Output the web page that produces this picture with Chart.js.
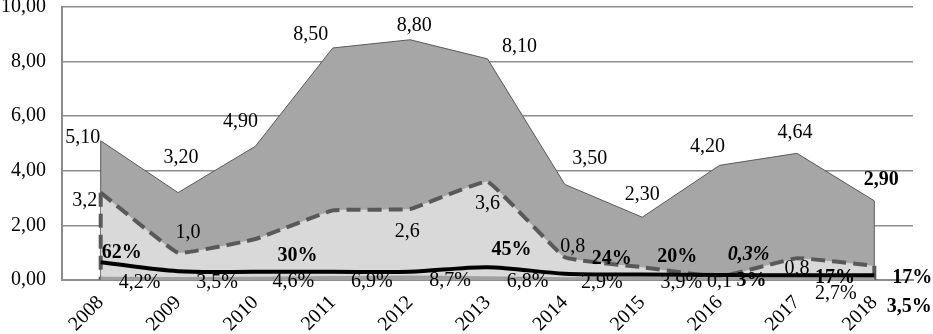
<!DOCTYPE html>
<html><head><meta charset="utf-8">
<script src="https://cdn.jsdelivr.net/npm/chart.js@4"></script>
<style>html,body{margin:0;padding:0;background:#fff}#wrap{width:933px;height:334px}</style>
</head><body><div id="wrap"><canvas id="c" width="933" height="334"></canvas></div>
<script>
// ---- data ----
const years = ['2008','2009','2010','2011','2012','2013','2014','2015','2016','2017','2018'];
const totalValues = [5.10, 3.20, 4.90, 8.50, 8.80, 8.10, 3.50, 2.30, 4.20, 4.64, 2.90];
const totalLabels = ['5,10','3,20','4,90','8,50','8,80','8,10','3,50','2,30','4,20','4,64','2,90'];
const partValues = [3.2, 1.0, 1.5, 2.55, 2.6, 3.6, 0.83, 0.47, 0.12, 0.8, 0.52];
const partLabels = ['3,2','1,0',null,null,'2,6','3,6','0,8',null,'0,1','0,8',null];
const shareValues = [0.65, 0.32, 0.30, 0.30, 0.30, 0.47, 0.23, 0.20, 0.18, 0.17, 0.17];
const shareLabels = ['62%',null,'30%',null,null,'45%','24%','20%','0,3%','17%','17%'];
const minorValues = [0.042, 0.035, 0.046, 0.069, 0.087, 0.068, 0.029, 0.039, 0.030, 0.027, 0.035];
const minorLabels = ['4,2%','3,5%','4,6%','6,9%','8,7%','6,8%','2,9%','3,9%','3%','2,7%','3,5%'];
const yTickValues = [0, 2, 4, 6, 8, 10];

// ---- label placement (styling, kept apart from data) ----
const FONT = '"Liberation Serif", "Times New Roman", serif';
const totalOffsets = [[-18,-3],[3,-35],[-15,-24],[-22,-13],[4,-14],[32,-12],[25,-26],[0,-22],[-12,-19],[-2,-21],[7,-21]];
const totalStyles  = ['','','','','','','','','','','bold'];
const partOffsets  = [[-16,8],[10,-20],[0,0],[0,0],[-3,23],[0,22],[8,-11],[0,0],[0,5],[0,11],[0,0]];
const shareOffsets = [[21,-9],[0,0],[42,-16],[0,0],[0,0],[24,-17],[47,-15],[35,-18],[29,-20],[38,2],[38,2]];
const shareStyles  = ['bold','bold','bold','bold','bold','bold','bold','bold','italic bold','bold','bold'];
const minorOffsets = [[39,3.5],[39,3.5],[38,3.5],[39,3.5],[40,3.5],[40,3.5],[37,3.5],[39,3.5],[32,1.5],[39,14],[35,28]];
const minorStyles  = ['','','','','','','','','bold','','bold'];

const labelPlugin = {
  id: 'valueLabels',
  afterDatasetsDraw(chart) {
    const ctx = chart.ctx;
    ctx.save();
    ctx.textAlign = 'center';
    ctx.textBaseline = 'middle';
    ctx.fillStyle = '#000';
    chart.data.datasets.forEach((ds, di) => {
      if (!ds.valueLabels) return;
      const meta = chart.getDatasetMeta(di);
      ds.valueLabels.forEach((t, i) => {
        if (!t) return;
        const p = meta.data[i];
        const off = ds.labelOffsets[i];
        const st = ds.labelStyles ? ds.labelStyles[i] : '';
        ctx.font = (st ? st + ' ' : '') + '20px ' + FONT;
        ctx.fillText(t, p.x + off[0], p.y + off[1]);
      });
    });
    ctx.restore();
  }
};

const edgePlugin = {
  id: 'areaEdges',
  afterDatasetDraw(chart, args) {
    const ds = chart.data.datasets[args.index];
    if (!ds.edge) return;
    const meta = args.meta;
    const base = chart.scales.y.getPixelForValue(0);
    const ctx = chart.ctx;
    ctx.save();
    ctx.strokeStyle = ds.borderColor;
    ctx.lineWidth = ds.borderWidth;
    ctx.setLineDash(ds.borderDash || []);
    [meta.data[0], meta.data[meta.data.length - 1]].forEach(p => {
      ctx.beginPath();
      ctx.moveTo(p.x, p.y);
      ctx.lineTo(p.x, base);
      ctx.stroke();
    });
    ctx.restore();
  }
};

new Chart(document.getElementById('c'), {
  type: 'line',
  data: {
    labels: years,
    datasets: [
      {
        data: totalValues, order: 4, fill: 'origin', tension: 0,
        backgroundColor: '#a6a6a6', borderColor: '#595959', borderWidth: 1,
        pointRadius: 0, edge: true,
        valueLabels: totalLabels, labelOffsets: totalOffsets, labelStyles: totalStyles
      },
      {
        data: partValues, order: 3, fill: 'origin', tension: 0.08,
        backgroundColor: '#d9d9d9', borderColor: '#595959', borderWidth: 4,
        borderDash: [14, 7], pointRadius: 0, edge: true,
        valueLabels: partLabels, labelOffsets: partOffsets
      },
      {
        data: minorValues, order: 2, fill: 'origin', tension: 0,
        backgroundColor: '#a6a6a6', borderColor: '#a0a0a0', borderWidth: 4,
        pointRadius: 0,
        valueLabels: minorLabels, labelOffsets: minorOffsets, labelStyles: minorStyles
      },
      {
        data: shareValues, order: 1, fill: false, tension: 0.3,
        borderColor: '#000', borderWidth: 4, pointRadius: 0,
        valueLabels: shareLabels, labelOffsets: shareOffsets, labelStyles: shareStyles
      }
    ]
  },
  options: {
    responsive: false,
    animation: false,
    devicePixelRatio: 1,
    layout: { padding: { top: 7, right: 20, left: 0, bottom: 0 } },
    plugins: { legend: { display: false }, tooltip: { enabled: false } },
    scales: {
      x: {
        offset: true,
        grid: { display: false, drawTicks: false },
        border: { display: true, color: '#8c8c8c', width: 2 },
        ticks: { color: '#000', font: { family: FONT, size: 20 }, maxRotation: 45, minRotation: 45, padding: 11, autoSkip: false },
        afterFit(s) { s.height = 54; s.paddingLeft = 0; s.paddingRight = 0; }
      },
      y: {
        min: 0, max: 10,
        afterBuildTicks(s) { s.ticks = yTickValues.map(v => ({ value: v })); },
        grid: { color: '#8c8c8c', lineWidth: 1.5, drawTicks: false },
        border: { display: true, color: '#8c8c8c', width: 2 },
        ticks: {
          color: '#000', font: { family: FONT, size: 20 }, padding: 16,
          callback: v => v.toFixed(2).replace('.', ',')
        },
        afterFit(s) { s.width = 62; s.paddingTop = 0; s.paddingBottom = 0; }
      }
    }
  },
  plugins: [edgePlugin, labelPlugin]
});
</script>
</body></html>
